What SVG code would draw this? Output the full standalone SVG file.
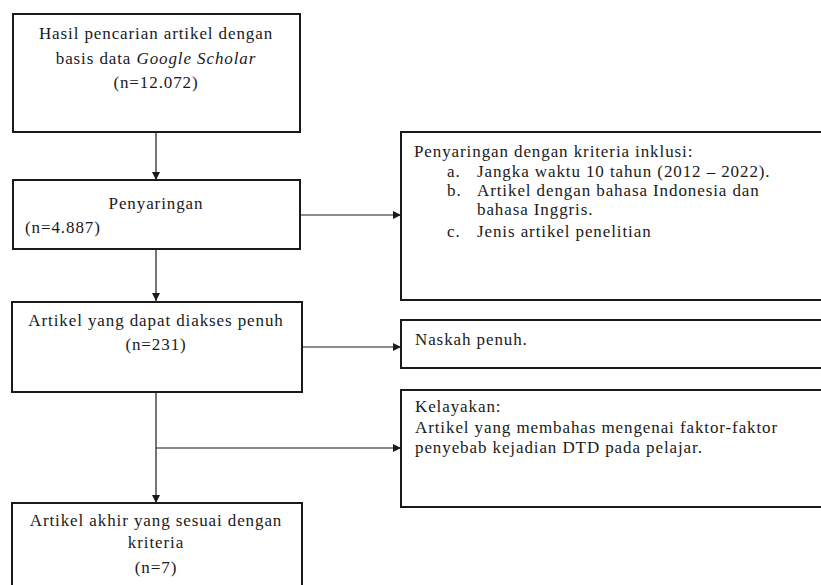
<svg xmlns="http://www.w3.org/2000/svg" width="821" height="585" viewBox="0 0 821 585">
<style>
.box{fill:#fff;stroke:#1a1a1a;stroke-width:2}
text{font-family:'Liberation Serif','Tinos','Times New Roman','Noto Serif','DejaVu Serif',serif;font-size:17px;letter-spacing:0.9px;fill:#1a1a1a}
.c{text-anchor:middle}
.i{font-style:italic}
.ln{fill:none;stroke:#1a1a1a;stroke-width:1.2}
</style>
<defs>
<marker id="ah" viewBox="0 0 10 10" refX="10" refY="5" markerWidth="8" markerHeight="8" markerUnits="userSpaceOnUse" orient="auto">
<path d="M0,0 L10,5 L0,10 z" fill="#1a1a1a"/>
</marker>
</defs>
<rect width="821" height="585" fill="#fff"/>
<g id="connectors">
<line class="ln" x1="156" y1="132" x2="156" y2="180" marker-end="url(#ah)"/>
<line class="ln" x1="156" y1="249" x2="156" y2="301" marker-end="url(#ah)"/>
<line class="ln" x1="156" y1="392" x2="156" y2="503" marker-end="url(#ah)"/>
<line class="ln" x1="300" y1="215" x2="401" y2="215" marker-end="url(#ah)"/>
<line class="ln" x1="302" y1="347" x2="401" y2="347" marker-end="url(#ah)"/>
<line class="ln" x1="156" y1="448" x2="401" y2="448" marker-end="url(#ah)"/>
</g>
<g id="search">
<rect class="box" x="13" y="14" width="287" height="118"/>
<text class="c" x="156" y="39">Hasil pencarian artikel dengan</text>
<text class="c" x="156" y="64">basis data <tspan class="i">Google Scholar</tspan></text>
<text class="c" x="156" y="88">(n=12.072)</text>
</g>
<g id="screening">
<rect class="box" x="13" y="180" width="287" height="69"/>
<text class="c" x="156" y="209">Penyaringan</text>
<text x="25" y="233">(n=4.887)</text>
</g>
<g id="fulltext">
<rect class="box" x="12" y="302" width="290" height="90"/>
<text class="c" x="156" y="326">Artikel yang dapat diakses penuh</text>
<text class="c" x="156" y="350">(n=231)</text>
</g>
<g id="final">
<rect class="box" x="12" y="503" width="290" height="100"/>
<text class="c" x="156" y="526">Artikel akhir yang sesuai dengan</text>
<text class="c" x="156" y="548">kriteria</text>
<text class="c" x="156" y="573">(n=7)</text>
</g>
<g id="inclusion">
<rect class="box" x="401" y="132" width="430" height="168"/>
<text x="414" y="157">Penyaringan dengan kriteria inklusi:</text>
<text x="447" y="177">a.</text>
<text x="477" y="177">Jangka waktu 10 tahun (2012 – 2022).</text>
<text x="447" y="196">b.</text>
<text x="477" y="196">Artikel dengan bahasa Indonesia dan</text>
<text x="477" y="215">bahasa Inggris.</text>
<text x="447" y="237">c.</text>
<text x="477" y="237">Jenis artikel penelitian</text>
</g>
<g id="fullmanuscript">
<rect class="box" x="401" y="320" width="430" height="48"/>
<text x="415" y="345">Naskah penuh.</text>
</g>
<g id="eligibility">
<rect class="box" x="401" y="390" width="430" height="117"/>
<text x="415" y="412">Kelayakan:</text>
<text x="415" y="433">Artikel yang membahas mengenai faktor-faktor</text>
<text x="415" y="453">penyebab kejadian DTD pada pelajar.</text>
</g>
</svg>
